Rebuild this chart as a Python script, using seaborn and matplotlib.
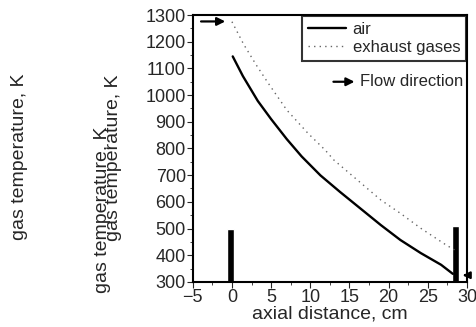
import pandas as pd
import matplotlib
matplotlib.use("Agg")
import matplotlib.pyplot as plt
import seaborn as sns

# values
air_x = [0.1, 1.4, 3.3, 5.0, 7.0, 8.9, 11.3, 13.8, 16.4, 19.0, 21.5, 24.1, 26.7, 28.2]
air_T = [1145, 1071, 978, 910, 835, 770, 699, 637, 575, 513, 457, 408, 364, 330]

exh_x = [0.0, 1.5, 3.1, 4.6, 7.0, 9.7, 11.9, 13.0, 16.0, 19.0, 21.5, 24.1, 27.3, 28.4]
exh_T = [1275, 1190, 1113, 1046, 944, 857, 794, 757, 682, 607, 557, 501, 439, 420]

# thick vertical markers (heat exchanger ends)
bar_x = [-0.2, 28.5]
bar_top = [500, 510]

air = pd.DataFrame({"x": air_x, "T": air_T})
exh = pd.DataFrame({"x": exh_x, "T": exh_T})

sns.set_style("ticks")
plt.rcParams["font.family"] = ["Liberation Sans", "DejaVu Sans"]

fig = plt.figure(figsize=(4.76, 3.27), dpi=100)
ax = fig.add_axes([0.405, 0.138, 0.576, 0.816])

sns.lineplot(data=air, x="x", y="T", color="black", lw=1.7, label="air", ax=ax)
sns.lineplot(data=exh, x="x", y="T", color="#666666", lw=1.0, ls=(0, (1, 3)),
             label="exhaust gases", ax=ax)

ax.bar(bar_x, [t - 300 for t in bar_top], bottom=300, width=0.9, color="black")

ax.set_xlim(-5, 30)
ax.set_ylim(300, 1300)
ax.set_xticks(range(-5, 31, 5))
ax.set_yticks(range(300, 1301, 100))
ax.set_xticks([x + 2.5 for x in range(-5, 30, 5)], minor=True)
ax.set_yticks([y + 50 for y in range(300, 1300, 100)], minor=True)
ax.tick_params(axis="both", which="major", direction="out", labelsize=13, length=4, pad=1)
ax.tick_params(which="minor", direction="out", length=2)
for s in ax.spines.values():
    s.set_linewidth(1.5)
    s.set_color("black")

ax.set_xlabel("axial distance, cm", fontsize=14, labelpad=0)
ax.set_ylabel("gas temperature, K", fontsize=14)
ax.yaxis.set_label_coords(-0.30, 0.27)

# extra copies of the y label as in the scan
fig.text(0.040, 0.52, "gas temperature, K", rotation=90, fontsize=14,
         ha="center", va="center")
fig.text(0.238, 0.517, "gas temperature, K", rotation=90, fontsize=14,
         ha="center", va="center")

leg = ax.legend(loc="upper right", fontsize=12, frameon=True, fancybox=False,
                borderaxespad=0.05, handlelength=2.3, borderpad=0.35,
                labelspacing=0.2, handletextpad=0.4, edgecolor="black")
leg.get_frame().set_linewidth(1.5)

# flow direction arrows
ax.annotate("", xy=(-0.5, 1276), xytext=(-4.3, 1276),
            arrowprops=dict(arrowstyle="-|>", color="black", lw=1.6, mutation_scale=12))
ax.annotate("", xy=(29.1, 325), xytext=(30.3, 325),
            arrowprops=dict(arrowstyle="-|>", color="black", lw=1.6, mutation_scale=10))
ax.annotate("", xy=(16.0, 1050), xytext=(12.6, 1050),
            arrowprops=dict(arrowstyle="-|>", color="black", lw=1.6, mutation_scale=12))
ax.text(16.4, 1050, "Flow direction", fontsize=12, va="center")

fig.savefig("out.png", dpi=100)
